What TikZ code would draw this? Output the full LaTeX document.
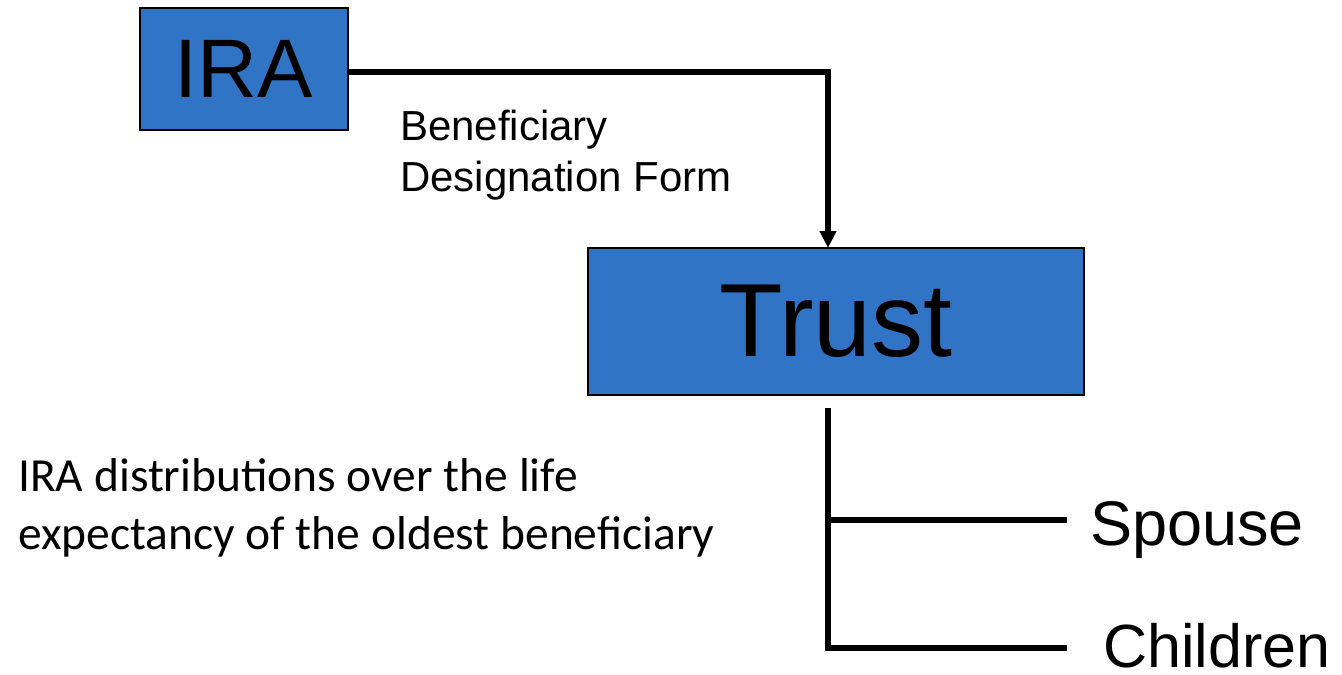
\documentclass[tikz,border=0pt]{standalone}
\usepackage{fontspec}
\setmainfont{Liberation Sans}
\newfontfamily\calibri{Carlito}
\usetikzlibrary{arrows.meta}
\definecolor{boxblue}{RGB}{49,115,196}
\begin{document}
\begin{tikzpicture}[x=1pt,y=-1pt,
  box/.style={draw=black,line width=2pt,fill=boxblue,inner sep=0pt},
  conn/.style={line width=5.5pt,line cap=butt},
  tip/.style={-{Triangle[length=17pt,width=16pt]}}]
\useasboundingbox (0,0) rectangle (1342,675);
\node[box,minimum width=208pt,minimum height=122pt,font=\fontsize{83}{90}\selectfont] (ira) at (244,69) {IRA};
\node[box,minimum width=496pt,minimum height=147pt,font=\fontsize{104}{110}\selectfont] (trust) at (836,321.5) {Trust};
\node[anchor=north west,inner sep=0pt,align=left,font=\fontsize{42}{51}\selectfont] (bdf) at (400,110) {Beneficiary\\Designation Form};
\node[anchor=base west,inner sep=0pt,font=\fontsize{63}{70}\selectfont] (spouse) at (1090,545) {Spouse};
\node[anchor=base west,inner sep=0pt,font=\fontsize{61}{70}\selectfont] (children) at (1103,667) {Children};
\node[anchor=north west,inner sep=0pt,align=left,font=\calibri\fontsize{47.5}{58}\selectfont] (dist) at (18,458) {IRA distributions over the life\\expectancy of the oldest beneficiary};
\coordinate (corner) at (828,72);
\coordinate (arrtip) at (828,248);
\coordinate (stem) at (828,408);
\coordinate (spend) at (1067,520);
\coordinate (chend) at (1067,648);
\draw[conn,tip,line join=miter] (ira.east |- corner) -- (corner) -- (arrtip);
\draw[conn,line join=miter] (stem) |- (chend);
\draw[conn] (stem |- spend) -- (spend);
\end{tikzpicture}
\end{document}
